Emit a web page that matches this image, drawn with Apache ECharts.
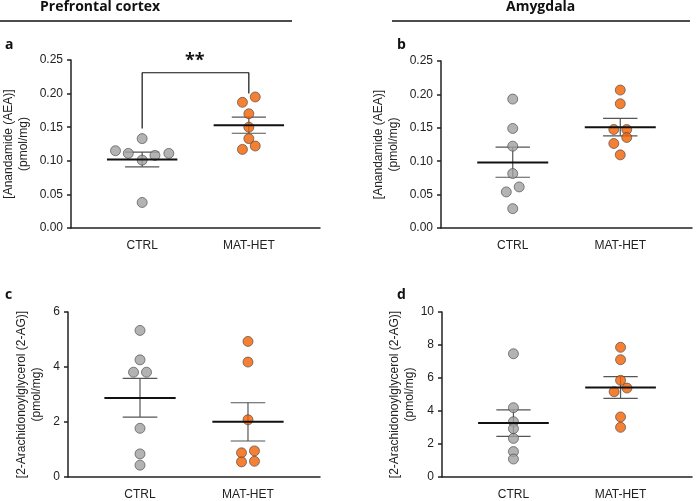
<!DOCTYPE html><html><head><meta charset="utf-8"><script src="https://cdn.jsdelivr.net/npm/echarts@6/dist/echarts.min.js"></script></head><body style="margin:0"><div id="c" style="width:700px;height:501px"></div><script>
const categories=['CTRL','MAT-HET'];
const aCtrl=[0.133,0.115,0.111,0.101,0.108,0.111,0.038], aCtrlJ=[0,-0.25,-0.13,0,0.12,0.25,0];
const aMat=[0.187,0.195,0.170,0.150,0.133,0.122,0.117], aMatJ=[-0.06,0.06,0,0,0,0.06,-0.06];
const aMean=[0.102,0.153], aSemLo=[0.091,0.141], aSemHi=[0.113,0.165];
const bCtrl=[0.193,0.149,0.1225,0.0815,0.0615,0.054,0.029], bCtrlJ=[0,0,0,0,0.06,-0.06,0];
const bMat=[0.2065,0.186,0.1475,0.1475,0.1355,0.1265,0.1095], bMatJ=[0,0,-0.06,0.06,0.06,-0.06,0];
const bMean=[0.098,0.151], bSemLo=[0.076,0.138], bSemHi=[0.121,0.164];
const cCtrl=[5.33,4.26,3.81,3.81,1.77,0.84,0.43], cCtrlJ=[0,0,-0.06,0.06,0,0,0];
const cMat=[4.93,4.18,2.08,0.88,0.95,0.55,0.57], cMatJ=[0,0,0,-0.06,0.06,-0.06,0.06];
const cMean=[2.87,2.01], cSemLo=[2.18,1.31], cSemHi=[3.59,2.70];
const dCtrl=[7.47,4.2,3.35,2.93,2.34,1.54,1.09], dCtrlJ=[0,0,0,0,0,0,0];
const dMat=[7.86,7.11,5.86,5.39,5.17,3.64,3.01], dMatJ=[0,0,0,0.06,-0.06,0,0];
const dMean=[3.27,5.43], dSemLo=[2.46,4.77], dSemHi=[4.07,6.08];
const panels=[
 {ctrl:aCtrl,cj:aCtrlJ,mat:aMat,mj:aMatJ,mean:aMean,lo:aSemLo,hi:aSemHi,max:0.25,iv:0.05,dec:2,name:'[Anandamide (AEA)]\n(pmol/mg)',grid:{left:68,right:380,top:60,bottom:273}},
 {ctrl:bCtrl,cj:bCtrlJ,mat:bMat,mj:bMatJ,mean:bMean,lo:bSemLo,hi:bSemHi,max:0.25,iv:0.05,dec:2,name:'[Anandamide (AEA)]\n(pmol/mg)',grid:{left:441,right:8,top:61,bottom:273}},
 {ctrl:cCtrl,cj:cCtrlJ,mat:cMat,mj:cMatJ,mean:cMean,lo:cSemLo,hi:cSemHi,max:6,iv:2,dec:0,name:'[2-Arachidonoylglycerol (2-AG)]\n(pmol/mg)',grid:{left:68,right:380,top:312,bottom:21}},
 {ctrl:dCtrl,cj:dCtrlJ,mat:dMat,mj:dMatJ,mean:dMean,lo:dSemLo,hi:dSemHi,max:10,iv:2,dec:0,name:'[2-Arachidonoylglycerol (2-AG)]\n(pmol/mg)',grid:{left:442,right:8,top:312,bottom:21}}
];
const grid=[],xAxis=[],yAxis=[],series=[];
const ax={lineStyle:{color:'#222',width:1.5}};
const FF='Liberation Sans';
panels.forEach((p,i)=>{
 grid.push(p.grid);
 xAxis.push({type:'value',gridIndex:i,min:-0.667,max:1.667,splitLine:{show:false},axisLine:{onZero:false,...ax},axisTick:{show:false},
  axisLabel:{customValues:[0,1],formatter:v=>categories[Math.round(v)],color:'#222',fontSize:12,fontFamily:FF,margin:12}});
 yAxis.push({type:'value',gridIndex:i,min:0,max:p.max,interval:p.iv,splitLine:{show:false},axisLine:{show:true,onZero:false,...ax},axisTick:{show:true,length:4,lineStyle:{color:'#222',width:1.5}},
  axisLabel:{formatter:v=>v.toFixed(p.dec),color:'#222',fontSize:12,fontFamily:FF},
  name:p.name,nameLocation:'middle',nameGap:p.dec?40:24,nameTextStyle:{color:'#222',fontSize:12,fontFamily:FF,lineHeight:15}});
 [[p.ctrl,p.cj,0,'#a0a0a0'],[p.mat,p.mj,1,'#f26000']].forEach(([vals,j,c,col])=>{
  series.push({type:'scatter',xAxisIndex:i,yAxisIndex:i,symbolSize:10,z:3,itemStyle:{color:col,borderColor:'#444',borderWidth:0.8},data:vals.map((v,k)=>[c+j[k],v])});
 });
 const seg=(pts,col,w,z)=>series.push({type:'line',xAxisIndex:i,yAxisIndex:i,data:pts,symbol:'none',silent:true,z:z,lineStyle:{color:col,width:w}});
 [0,1].forEach(c=>{
  seg([[c-0.33,p.mean[c]],[c+0.33,p.mean[c]]],'#111',2,4);
  seg([[c,p.lo[c]],[c,p.hi[c]]],'#555',1.2,2);
  seg([[c-0.16,p.lo[c]],[c+0.16,p.lo[c]]],'#555',1.2,2);
  seg([[c-0.16,p.hi[c]],[c+0.16,p.hi[c]]],'#555',1.2,2);
 });
 if(i===0){
  seg([[0,0.148],[0,0.231],[1,0.231],[1,0.2]],'#111',1.2,2);
 }
});
const chart=echarts.init(document.getElementById('c'));
chart.setOption({animation:false,backgroundColor:'#fff',grid,xAxis,yAxis,series,
 graphic:[
  {type:'text',left:40,top:0,style:{text:'Prefrontal cortex',font:'bold 14px "Open Sans"',fill:'#111'}},
  {type:'line',shape:{x1:0,y1:21,x2:292,y2:21},style:{stroke:'#111',lineWidth:1.5}},
  {type:'text',left:506,top:0,style:{text:'Amygdala',font:'bold 14px "Open Sans"',fill:'#111'}},
  {type:'line',shape:{x1:392,y1:21,x2:690,y2:21},style:{stroke:'#111',lineWidth:1.5}},
  {type:'text',left:5,top:38,style:{text:'a',font:'bold 14px "Open Sans"',fill:'#111'}},
  {type:'text',left:397,top:38,style:{text:'b',font:'bold 14px "Open Sans"',fill:'#111'}},
  {type:'text',left:5,top:288,style:{text:'c',font:'bold 14px "Open Sans"',fill:'#111'}},
  {type:'text',left:397,top:288,style:{text:'d',font:'bold 14px "Open Sans"',fill:'#111'}},
  {type:'text',left:185,top:52,style:{text:'**',font:'bold 18px "Open Sans"',fill:'#111'}}
 ]});
</script></body></html>
